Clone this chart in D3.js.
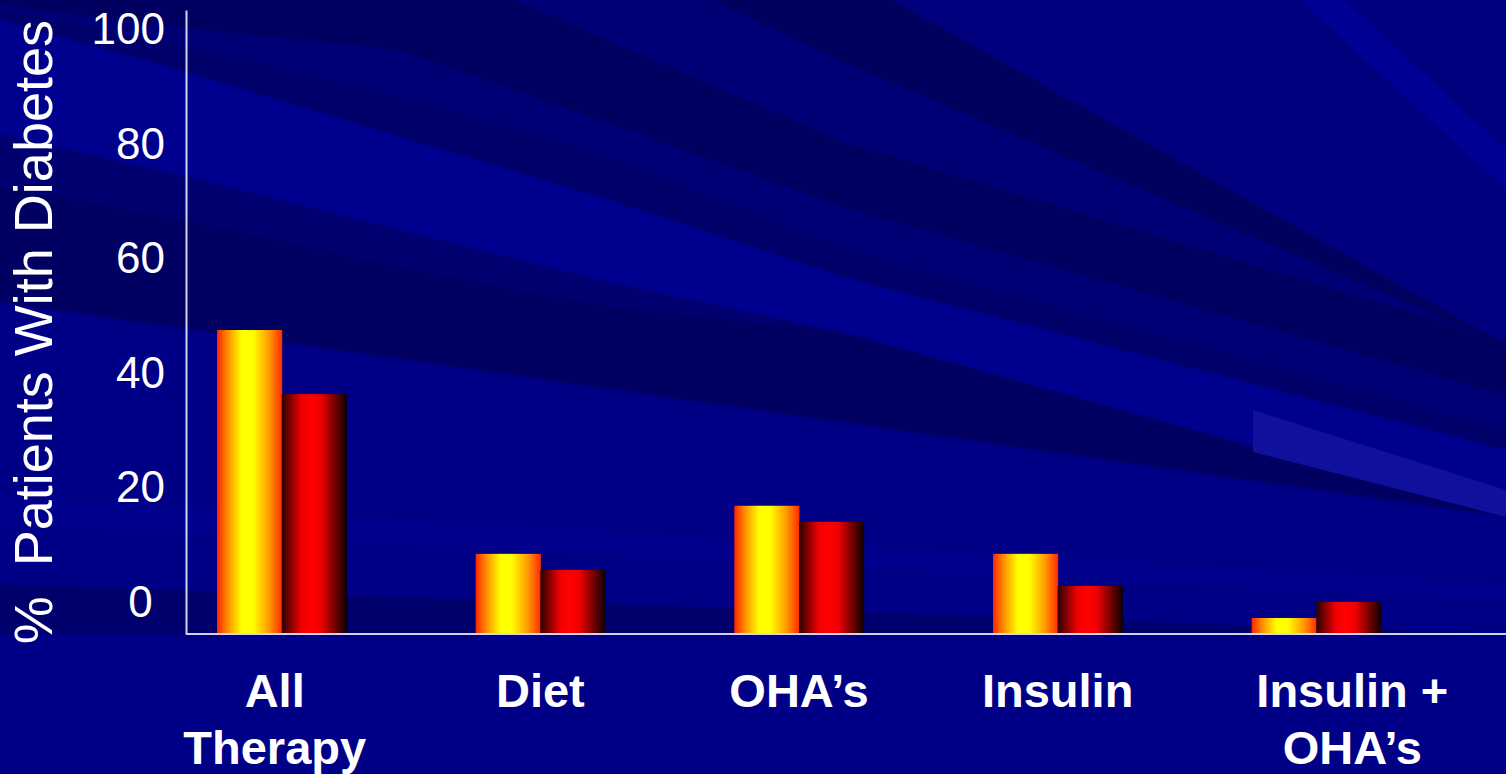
<!DOCTYPE html>
<html>
<head>
<meta charset="utf-8">
<script src="https://cdn.jsdelivr.net/npm/d3@7/dist/d3.min.js"></script>
<style>
  html, body { margin: 0; padding: 0; background: #000086; overflow: hidden; }
  svg { display: block; }
  text { font-family: "Liberation Sans", Arial, Helvetica, sans-serif; fill: #ffffff; }
</style>
</head>
<body>
<svg id="chart" width="1506" height="774"></svg>
<script>
// Treatment categories (label lines as printed under each group)
const categories = ["All Therapy", "Diet", "OHA’s", "Insulin", "Insulin + OHA’s"];
const categoryLines = [["All", "Therapy"], ["Diet"], ["OHA’s"], ["Insulin"], ["Insulin +", "OHA’s"]];

// Percent of patients with diabetes, two series per category
const seriesOne = [53.1, 14.0, 22.4, 14.0, 2.8];
const seriesTwo = [41.9, 11.2, 19.6, 8.4, 5.6];
const seriesKeys = ["one", "two"];

// Y axis tick values
const yTicks = [0, 20, 40, 60, 80, 100];

const W = 1506, H = 774;
const svg = d3.select("#chart");
const defs = svg.append("defs");

// ---- backdrop: dark-blue slide background with diagonal streaks ----
// streak edges are sampled at these x stations
const stations = [0, 186, 400, 600, 846, 1506];
const edge = {
  aLow:  [5, 28, 50, 120, 208, 395],
  dUp:   [10, 47, 97, 153, 250, 430],
  bUp:   [20, 72, 137, 197, 278, 450],
  bLow:  [133, 177, 230, 280, 333, 517],
  cUp:   [187, 220, 267, 305, 333, 517],
  cLow:  [302, 329, 359, 388, 423, 517]
};
const strip = (up, low) => stations.map((sx, i) => [sx, up[i]])
  .concat(stations.map((sx, i) => [sx, low[i]]).reverse());

const backdrop = [
  { pts: [[0,0],[1506,0],[1506,774],[0,774]], fill: "#000086" },
  { pts: [[0,0],[1506,0]].concat(stations.map((sx, i) => [sx, edge.bUp[i]]).reverse()), fill: "#000076" },
  { pts: [[892,0],[1506,0],[1506,345]], fill: "#00007e" },
  { pts: [[1300,0],[1345,0],[1506,150],[1506,190]], fill: "#000094" },
  { pts: [[712,0],[892,0],[1506,345],[846,63]], fill: "#00005e" },
  { pts: [[0,0],[514,0],[846,143],[1506,341]].concat(stations.map((sx, i) => [sx, edge.aLow[i]]).reverse()), fill: "#000060" },
  { pts: strip(edge.dUp, edge.bUp), fill: "#00006a" },
  { pts: strip(edge.bUp, edge.bLow), fill: "#00008e" },
  { pts: strip(edge.bLow, edge.cUp), fill: "#000070" },
  { pts: strip(edge.cUp, edge.cLow), fill: "#000062" },
  { pts: [[0,497],[0,523],[1506,600],[1506,585]], fill: "#00008c" },
  { pts: [[0,584],[1506,634],[0,634]], fill: "#00006c" },
  { pts: [[1253,410],[1506,490],[1506,517],[1253,452]], fill: "#10109c" }
];
svg.append("g").attr("class", "backdrop")
  .selectAll("polygon").data(backdrop).join("polygon")
  .attr("points", d => d.pts.map(p => p.join(",")).join(" "))
  .attr("fill", d => d.fill);

// ---- bar gradients (cylinder-like shading) ----
const gradYellow = defs.append("linearGradient").attr("id", "gradOne")
  .attr("x1", "0%").attr("x2", "100%").attr("y1", "0%").attr("y2", "0%");
[["0%", "#ff2400"], ["16%", "#ff8c00"], ["38%", "#ffff00"], ["55%", "#ffff00"],
 ["80%", "#ff9a00"], ["100%", "#ff2a00"]]
  .forEach(([o, c]) => gradYellow.append("stop").attr("offset", o).attr("stop-color", c));

const gradRed = defs.append("linearGradient").attr("id", "gradTwo")
  .attr("x1", "0%").attr("x2", "100%").attr("y1", "0%").attr("y2", "0%");
[["0%", "#2a0000"], ["30%", "#f00000"], ["45%", "#ff0000"], ["60%", "#f00000"],
 ["100%", "#0c0000"]]
  .forEach(([o, c]) => gradRed.append("stop").attr("offset", o).attr("stop-color", c));

// ---- scales ----
const axisX = 186, baseY = 634;
const x = d3.scaleBand().domain(categories).range([axisX, 1412])
  .paddingInner(0.5).paddingOuter(0.12);
const xs = d3.scaleBand().domain(seriesKeys).range([0, x.bandwidth()]);
const y = d3.scaleLinear().domain([0, 109]).range([baseY, 10]);

const rows = categories.map((c, i) => ({ cat: c, one: seriesOne[i], two: seriesTwo[i] }));

// ---- bars ----
const groups = svg.append("g").attr("class", "bars")
  .selectAll("g").data(rows).join("g")
  .attr("transform", d => `translate(${x(d.cat)},0)`);
groups.selectAll("rect")
  .data(d => seriesKeys.map(k => ({ key: k, value: d[k] })))
  .join("rect")
  .attr("x", d => xs(d.key))
  .attr("width", xs.bandwidth() + 0.5)
  .attr("y", d => y(d.value))
  .attr("height", d => y(0) - y(d.value))
  .attr("fill", d => d.key === "one" ? "url(#gradOne)" : "url(#gradTwo)");

// ---- y axis ----
const yAxis = svg.append("g").attr("class", "y-axis")
  .attr("transform", `translate(${axisX},0)`)
  .call(d3.axisLeft(y).tickValues(yTicks).tickSize(0).tickSizeOuter(0)
    .tickFormat(d => d === 0 ? "0\u00A0" : String(d)));
yAxis.select(".domain").attr("stroke", "#d4d4ee").attr("stroke-width", 2);
yAxis.selectAll(".tick text")
  .attr("x", -21).attr("dy", null).attr("y", -18)
  .attr("font-size", 44).attr("fill", "#ffffff")
  .style("font-family", "'Liberation Sans', Arial, sans-serif");

// ---- baseline ----
svg.append("line")
  .attr("x1", axisX).attr("x2", W)
  .attr("y1", y(0)).attr("y2", y(0))
  .attr("stroke", "#d4d4ee").attr("stroke-width", 2);

// ---- category labels ----
const labelNudge = { "All Therapy": -7, "Insulin + OHA’s": 36 };
const catLabels = svg.append("g").attr("class", "x-labels")
  .selectAll("text").data(categories).join("text")
  .attr("text-anchor", "middle")
  .attr("font-size", 47).attr("font-weight", "bold")
  .attr("transform", c => `translate(${x(c) + x.bandwidth() / 2 + (labelNudge[c] || 0)},707)`);
catLabels.selectAll("tspan")
  .data((c, i) => categoryLines[i])
  .join("tspan")
  .attr("x", 0)
  .attr("dy", (d, j) => j === 0 ? 0 : 57)
  .text(d => d);

// ---- y axis title ----
svg.append("text")
  .attr("transform", "translate(52,20) rotate(-90)")
  .attr("text-anchor", "end")
  .attr("font-size", 54)
  .style("white-space", "pre")
  .text("%  Patients With Diabetes");
</script>
</body>
</html>
